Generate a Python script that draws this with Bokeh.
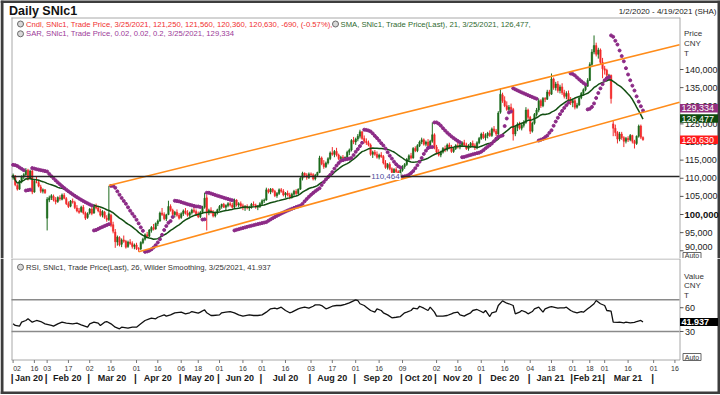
import numpy as np
import pandas as pd
from bokeh.plotting import figure
from bokeh.layouts import column
from bokeh.models import Range1d, ColumnDataSource, Label
from bokeh.embed import file_html
from bokeh.resources import INLINE
from bokeh.core.properties import value

FONT = "Liberation Sans"

# ---------------- trading calendar (SHFE sessions) ----------------
CAL_START, CAL_END = "2020-01-02", "2021-04-19"
HOLIDAYS = [
    "2020-01-01", "2020-01-24", "2020-01-27", "2020-01-28", "2020-01-29", "2020-01-30", "2020-01-31",
    "2020-04-06", "2020-05-01", "2020-05-04", "2020-05-05", "2020-06-25", "2020-06-26",
    "2020-10-01", "2020-10-02", "2020-10-05", "2020-10-06", "2020-10-07", "2020-10-08",
    "2021-01-01", "2021-02-11", "2021-02-12", "2021-02-15", "2021-02-16", "2021-02-17", "2021-04-05",
]

# ---------------- daily candles (open, high, low, close) in thousand CNY ----------------
jan20 = [(110.2,111.3,109.6,110.8),(110.6,110.9,107.8,108.2),(108.0,108.4,106.6,107.0),(107.0,109.5,106.8,109.2),
         (109.0,110.8,108.6,110.4),(110.4,111.4,109.8,111.0),(111.0,112.8,110.6,112.2),(112.2,112.6,109.4,109.8),
         (109.8,112.4,109.6,112.0),(112.0,112.3,105.6,106.2),(106.2,109.6,106.0,109.2),(109.0,110.4,108.6,108.9),
         (108.8,109.6,107.5,107.8),(107.6,108.2,105.9,106.4),(106.4,107.2,105.8,106.8),(106.8,107.0,105.7,106.0)]
feb20 = [(99.0,104.8,95.6,104.2),(104.0,105.2,103.4,104.6),(104.6,105.6,104.0,105.2),(105.0,105.5,103.6,104.0),
         (104.0,104.8,102.8,103.5),(103.6,105.0,103.2,104.7),(104.6,105.3,103.8,104.3),(104.2,105.8,103.9,105.4),
         (105.3,105.9,104.2,104.5),(104.4,104.8,102.6,103.0),(103.0,103.6,101.8,102.2),(102.3,104.0,102.0,103.7),
         (103.6,104.4,103.0,103.4),(103.3,103.8,101.5,101.9),(101.8,102.6,100.6,101.0),(101.0,101.8,100.2,100.6),
         (100.8,102.4,100.5,102.0),(102.0,102.6,100.0,100.4),(100.4,100.8,98.5,99.0),(99.2,100.6,98.8,100.2)]
mar20 = [(100.4,101.8,100.0,101.5),(101.5,102.0,99.8,100.3),(100.4,102.8,100.2,102.5),(102.4,103.0,101.4,101.8),
         (101.8,102.4,100.6,101.0),(101.0,101.6,99.4,99.8),(99.8,101.2,99.2,100.8),(100.6,101.0,98.8,99.2),
         (99.0,99.8,98.0,98.6),(98.6,107.9,98.2,100.2),(99.8,100.2,96.5,97.0),(97.2,98.0,94.8,95.4),
         (95.2,96.0,90.8,92.5),(92.4,94.2,91.4,93.8),(93.6,94.0,91.2,91.6),(91.8,93.4,91.0,93.0),
         (93.0,94.2,92.2,92.6),(92.6,93.0,90.6,91.0),(91.2,92.8,90.8,92.4),(92.4,93.2,91.6,92.0),
         (92.0,92.6,90.6,91.2),(91.2,92.0,90.4,91.6)]
apr20 = [(91.6,92.2,90.2,90.6),(90.6,91.0,89.7,90.4),(90.5,92.6,90.2,92.3),(92.2,93.6,91.8,93.2),
         (93.2,94.8,92.8,94.4),(94.4,95.2,93.6,93.9),(94.0,96.0,93.8,95.7),(95.6,96.8,95.0,96.4),
         (96.4,97.4,95.6,95.9),(96.0,97.8,95.8,97.5),(97.5,98.6,96.8,98.2),(98.2,100.8,98.0,100.4),
         (100.4,101.8,99.6,100.0),(100.0,100.6,98.4,98.8),(98.8,100.2,98.2,99.9),(100.0,103.8,99.8,102.2),
         (102.2,102.8,100.8,101.2),(101.2,101.6,99.6,100.0),(100.0,101.0,99.2,100.6),(100.6,101.4,99.4,99.8),
         (99.8,100.4,98.6,99.0)]
may20 = [(99.2,100.6,98.8,100.2),(100.2,101.4,99.6,101.0),(101.0,101.8,100.0,100.4),(100.4,101.2,99.4,99.8),
         (99.8,100.8,99.2,100.5),(100.5,101.6,100.0,101.2),(101.2,102.2,100.4,100.8),(100.8,101.4,99.6,100.0),
         (100.0,100.8,99.0,99.4),(99.4,101.0,99.0,100.6),(100.6,102.4,100.2,102.0),(102.0,106.0,101.6,104.5),
         (104.6,105.4,95.6,100.4),(100.4,101.6,99.8,101.2),(101.2,102.0,100.2,100.6),(100.6,101.2,99.2,99.6),
         (99.6,100.8,99.2,100.4),(100.4,101.6,100.0,101.3)]
jun20 = [(101.3,102.6,101.0,102.2),(102.2,103.0,101.6,102.8),(102.8,103.2,101.8,102.0),(102.0,102.8,101.2,102.5),
         (102.5,103.4,102.0,103.0),(103.0,103.5,102.2,102.6),(102.6,103.2,101.6,102.0),(102.0,104.4,101.8,104.0),
         (104.0,104.2,102.2,102.6),(102.6,103.4,102.0,103.0),(103.0,103.6,102.0,102.4),(102.4,103.0,101.2,101.8),
         (101.8,102.6,101.0,102.2),(102.2,102.8,101.4,101.8),(101.8,102.4,101.0,102.0),(102.0,103.2,101.6,102.8),
         (102.8,103.6,102.2,102.6),(102.6,103.0,101.6,102.0),(102.0,102.6,101.2,102.2),(102.2,103.4,101.8,103.0)]
jul20 = [(103.0,104.2,102.6,103.8),(103.8,104.4,103.2,104.0),(104.0,107.4,103.8,106.8),(106.8,107.2,105.8,106.2),
         (106.2,107.3,105.6,107.0),(107.0,107.3,106.0,106.4),(106.4,106.8,104.8,105.2),(105.2,106.2,104.6,105.8),
         (105.8,107.2,105.4,106.8),(106.8,107.3,106.0,106.4),(106.4,107.0,105.0,105.4),(105.4,106.2,104.6,105.9),
         (105.9,106.6,105.0,105.4),(105.4,106.0,104.2,104.8),(104.8,106.0,104.4,105.6),(105.6,106.8,105.2,106.4),
         (106.4,107.0,105.4,105.8),(105.8,107.2,105.6,107.0),(107.0,110.4,106.8,110.0),(110.0,111.8,109.4,111.4),
         (111.4,111.6,110.2,110.8),(110.8,111.4,109.6,110.2),(110.2,111.6,109.8,111.2)]
aug20 = [(111.2,111.6,110.4,111.0),(111.0,111.4,109.4,109.8),(109.8,111.2,109.4,110.8),(110.8,111.8,110.4,111.6),
         (111.6,116.2,111.4,115.6),(115.6,116.0,113.6,114.0),(114.0,115.0,112.6,113.2),(113.2,114.6,112.8,114.2),
         (114.2,115.8,113.8,115.4),(115.4,117.4,115.0,117.0),(117.0,118.6,116.2,116.6),(116.6,117.8,115.8,117.4),
         (117.4,118.4,116.0,116.4),(116.4,116.8,115.0,115.4),(115.4,116.2,115.2,115.8),(115.8,116.4,115.3,115.6),
         (115.6,116.0,115.4,115.8),(115.8,117.6,115.6,117.2),(117.2,118.2,116.4,117.8),(117.8,120.8,117.4,120.4),
         (120.4,121.4,119.4,120.0)]
sep20 = [(120.0,121.2,119.2,120.8),(120.8,122.2,120.2,121.6),(121.6,123.4,121.0,122.8),(122.8,123.0,120.6,121.0),
         (121.0,121.8,119.6,120.2),(120.2,121.0,119.2,119.8),(119.8,120.4,118.8,119.2),(119.2,119.6,116.2,116.6),
         (116.6,117.6,115.6,117.2),(117.2,117.8,116.2,116.6),(116.6,117.4,115.4,115.8),(115.8,116.8,115.2,116.4),
         (116.4,117.2,115.6,116.0),(116.0,116.4,113.8,114.2),(114.2,115.0,112.6,113.0),(113.0,114.2,112.4,113.8),
         (113.8,114.4,112.2,112.6),(112.6,113.0,111.2,111.6),(111.6,112.8,111.0,112.4),(112.4,113.0,111.4,111.8),
         (111.8,112.2,110.464,110.9),(110.9,112.6,110.6,112.2)]
oct20 = [(112.2,113.6,111.8,113.2),(113.2,114.2,112.6,113.8),(113.8,115.6,113.4,115.2),(115.2,116.6,114.8,116.2),
         (116.2,117.0,115.2,115.6),(115.6,118.6,115.4,118.2),(118.2,118.8,117.2,117.6),(117.6,119.4,117.2,119.0),
         (119.0,120.4,118.6,120.0),(120.0,121.2,119.4,120.6),(120.6,121.0,119.0,119.4),(119.4,120.4,118.8,120.0),
         (120.0,120.8,118.6,119.0),(119.0,120.6,118.6,120.2),(120.2,125.4,119.8,122.0),(122.0,122.4,118.0,118.6)]
nov20 = [(118.6,119.2,116.6,117.2),(117.2,118.0,116.0,116.4),(116.4,117.6,115.8,117.2),(117.2,118.6,116.8,118.2),
         (118.2,119.0,117.2,117.8),(117.8,119.6,117.4,119.2),(119.2,119.8,118.0,118.4),(118.4,119.2,117.0,117.4),
         (117.4,118.6,117.0,118.2),(118.2,119.4,117.8,119.0),(119.0,119.8,118.2,118.6),(118.6,119.6,118.0,119.2),
         (119.2,120.2,118.6,119.8),(119.8,120.6,118.8,119.2),(119.2,119.8,117.8,118.2),(118.2,119.4,117.6,119.0),
         (119.0,120.0,118.4,119.6),(119.6,120.4,118.6,119.0),(119.0,119.6,117.8,118.4),(118.4,120.2,118.0,119.8),
         (119.8,121.4,119.4,121.0)]
dec20 = [(121.0,122.6,120.6,122.2),(122.2,122.8,120.8,121.2),(121.2,122.4,120.4,121.8),(121.8,122.8,121.0,122.4),
         (122.4,123.2,121.4,121.8),(121.8,124.0,121.4,123.6),(123.6,124.4,122.6,123.0),(123.0,123.6,121.6,122.2),
         (122.2,128.5,121.8,128.0),(128.2,134.8,127.8,133.2),(133.0,133.6,130.8,131.4),(131.4,132.6,129.6,130.0),
         (130.0,131.2,128.6,129.0),(129.0,130.2,128.4,129.6),(129.6,130.6,128.6,129.0),(129.0,129.4,120.4,122.2),
         (122.2,124.4,121.6,124.0),(124.0,125.4,123.0,124.8),(124.8,125.6,123.4,123.8),(123.8,125.0,123.2,124.6),
         (124.6,126.0,124.0,125.4),(125.4,129.6,125.0,128.8),(128.8,129.2,126.2,126.8)]
jan21 = [(126.8,127.2,122.2,123.0),(123.0,125.6,122.6,125.2),(125.2,128.0,124.8,127.6),(127.6,129.4,127.0,128.8),
         (128.8,132.0,128.2,131.4),(131.4,131.8,129.4,130.0),(130.0,132.4,129.6,132.0),(132.0,132.4,131.0,131.8),
         (131.8,134.4,131.6,133.8),(133.8,134.4,132.6,133.2),(133.2,138.9,133.0,137.4),(137.4,137.8,134.4,135.0),
         (135.0,136.6,134.2,136.0),(136.0,136.8,133.6,134.2),(134.2,135.8,133.4,135.2),(135.2,136.2,133.0,133.6),
         (133.6,134.4,132.0,132.6),(132.6,134.0,131.8,133.4),(133.4,134.2,131.0,131.6),(131.6,132.4,130.2,130.8)]
feb21 = [(130.8,132.0,129.6,131.4),(131.4,132.2,129.0,129.6),(129.6,130.8,129.2,130.2),(130.2,132.6,130.0,132.2),
         (132.2,133.8,131.8,133.4),(133.4,134.8,132.8,134.4),(134.4,135.6,134.0,135.4),(135.4,137.6,135.2,137.0),
         (137.0,142.0,136.8,141.4),(141.4,145.6,141.0,144.8),(144.8,149.4,144.2,146.6),(146.6,147.4,143.6,144.2),
         (144.2,146.0,143.0,145.4),(145.4,145.8,141.4,142.0),(142.0,143.2,137.6,140.2)]
mar21 = [(140.2,141.0,138.6,139.8),(139.8,140.2,137.9,138.4),(138.4,138.8,138.0,138.4),(138.4,138.6,130.6,132.0),
         (125.0,126.0,121.6,123.8),(123.8,124.8,121.6,122.6),(122.6,123.0,119.6,120.8),(120.8,122.8,120.2,122.2),
         (122.2,122.8,120.6,121.2),(121.2,121.6,118.6,120.2),(120.2,121.4,119.6,121.0),(121.0,121.6,120.0,120.6),
         (120.6,122.2,120.2,121.8),(121.8,122.0,119.6,120.2),(120.2,120.6,118.2,119.6),(119.6,121.8,119.2,121.6),
         (121.6,124.8,121.2,124.4),(124.4,124.8,120.8,121.32),(121.25,121.56,120.36,120.63)]

# RSI(26, Wilder): session number -> value
rsi_session = [0, 1, 3, 4, 6, 7, 9, 11, 13, 15, 18, 19, 21, 23, 25, 28, 30, 32, 35, 36,
               38, 40, 41, 43, 44, 46, 48, 50, 51, 54, 56, 58, 60, 62, 64, 65, 67, 68, 71, 72,
               74, 76, 79, 81, 83, 84, 87, 88, 90, 91, 93, 94, 97, 98, 100, 102, 104, 106, 108, 111,
               113, 115, 117, 119, 121, 123, 124, 126, 128, 130, 131, 134, 135, 137, 139, 141, 142, 144, 145, 147,
               148, 150, 152, 154, 156, 158, 161, 162, 163, 165, 166, 168, 170, 171, 173, 174, 176, 178, 180, 182,
               184, 185, 187, 188, 190, 191, 193, 195, 196, 198, 199, 202, 204, 206, 207, 209, 210, 212, 213, 215,
               216, 218, 220, 221, 222, 224, 225, 227, 228, 230, 232, 233, 235, 236, 238, 239, 241, 242, 244, 245,
               247, 249, 250, 252, 253, 256, 257, 259, 260, 262, 263, 265, 267, 268, 270, 271, 273, 274, 276, 278,
               279, 281, 282, 284, 285, 287, 288, 290, 292, 293, 295, 296]
rsi_value = [39.7, 37.6, 36.7, 41.8, 43.9, 46.0, 41.8, 43.9, 42.6, 39.7, 37.6, 36.7, 39.7, 41.8, 40.5, 39.7, 40.5, 38.4, 35.5, 39.7,
             41.8, 40.5, 37.6, 41.8, 42.6, 39.7, 35.5, 33.4, 35.5, 34.2, 35.5, 35.5, 39.7, 43.9, 46.0, 46.8, 46.0, 48.0, 51.0, 49.4,
             51.0, 53.6, 54.4, 52.3, 53.6, 55.2, 53.1, 54.4, 57.4, 53.6, 50.2, 50.2, 51.0, 53.6, 54.4, 55.2, 53.6, 51.0, 49.4, 51.0,
             50.2, 50.2, 51.0, 54.4, 58.6, 59.4, 58.6, 60.7, 56.5, 53.6, 54.4, 58.6, 59.4, 60.7, 59.4, 61.9, 63.6, 63.6, 62.8, 58.6,
             59.4, 61.9, 62.8, 62.8, 64.1, 66.2, 70.0, 69.1, 65.0, 62.8, 60.7, 56.5, 54.4, 58.6, 56.5, 53.6, 51.0, 47.3, 48.0, 48.9,
             53.6, 54.4, 56.5, 59.4, 58.6, 61.9, 59.4, 56.5, 60.7, 54.4, 49.4, 49.4, 50.2, 52.3, 53.6, 54.4, 51.0, 49.4, 51.0, 53.6,
             56.5, 57.8, 55.2, 53.6, 56.5, 48.9, 53.6, 55.2, 62.8, 68.7, 65.7, 65.0, 62.8, 52.3, 54.4, 56.5, 54.4, 52.3, 55.2, 58.6,
             60.7, 54.4, 58.6, 60.7, 61.5, 59.4, 59.9, 59.9, 60.7, 56.5, 55.2, 53.6, 55.2, 54.4, 58.6, 60.7, 65.0, 69.1, 65.0, 62.8,
             56.5, 55.6, 41.8, 41.4, 41.8, 41.0, 41.8, 41.0, 41.4, 42.6, 43.9, 41.937]

SMA_LEN = 21
SAR_START = 113700          # SAR value at the first session
SAR_AF = (0.02, 0.02, 0.2)
LEVEL = 110464              # horizontal support line
upper_channel = ([45, 273], [108000, 141000])
lower_channel = ([59, 273], [89700, 124430])
price_ticks = [90000, 95000, 100000, 105000, 110000, 115000, 120000, 125000, 130000, 135000, 140000]
rsi_ticks = [60, 30]
rsi_bands = [70, 30]
last_sar, last_sma, last_close, last_rsi = 129334, 126477, 120630, 41.937
day_ticks = ["2020-01-02", "2020-01-16", "2020-02-03", "2020-02-17", "2020-03-02", "2020-03-16", "2020-04-01",
             "2020-04-16", "2020-05-06", "2020-05-18", "2020-06-01", "2020-06-16", "2020-07-01", "2020-07-16",
             "2020-08-03", "2020-08-17", "2020-09-01", "2020-09-16", "2020-10-09", "2020-11-02", "2020-11-16",
             "2020-12-01", "2020-12-16", "2021-01-04", "2021-01-18", "2021-02-01", "2021-02-18", "2021-03-01",
             "2021-03-16", "2021-04-01", "2021-04-16"]
month_labels = ["Jan 20", "Feb 20", "Mar 20", "Apr 20", "May 20", "Jun 20", "Jul 20", "Aug 20", "Sep 20",
                "Oct 20", "Nov 20", "Dec 20", "Jan 21", "Feb 21", "Mar 21"]

title_text = "Daily SNlc1"
range_text = "1/2/2020 - 4/19/2021 (SHA)"
legend_cndl = "Cndl, SNlc1, Trade Price, 3/25/2021, 121,250, 121,560, 120,360, 120,630, -690, (-0.57%),"
legend_sma = "SMA, SNlc1, Trade Price(Last),  21, 3/25/2021, 126,477,"
legend_sar = "SAR, SNlc1, Trade Price,  0.02, 0.02, 0.2, 3/25/2021, 129,334"
legend_rsi = "RSI, SNlc1, Trade Price(Last),  26, Wilder Smoothing, 3/25/2021, 41.937"

# ---------------- derived series ----------------
sessions = [d for d in pd.bdate_range(CAL_START, CAL_END) if d.strftime("%Y-%m-%d") not in HOLIDAYS]
sess_index = {d.strftime("%Y-%m-%d"): i for i, d in enumerate(sessions)}

months = [jan20, feb20, mar20, apr20, may20, jun20, jul20, aug20, sep20, oct20, nov20, dec20, jan21, feb21, mar21]
ohlc = np.array([row for m in months for row in m]) * 1000.0
op, hi, lo, cl = ohlc.T
xs = np.arange(len(cl))
sma = pd.Series(cl).rolling(SMA_LEN, min_periods=1).mean().values


def parabolic_sar(h, l, start, af0, step, afmax):
    out = np.empty(len(h))
    up, sar, ep, af = False, start, l[0], af0
    out[0] = sar
    for i in range(1, len(h)):
        sar = sar + af * (ep - sar)
        if up:
            sar = min(sar, l[i - 1], l[max(i - 2, 0)])
            if l[i] < sar:
                up, sar, ep, af = False, ep, l[i], af0
            elif h[i] > ep:
                ep, af = h[i], min(af + step, afmax)
        else:
            sar = max(sar, h[i - 1], h[max(i - 2, 0)])
            if h[i] > sar:
                up, sar, ep, af = True, ep, h[i], af0
            elif l[i] < ep:
                ep, af = l[i], min(af + step, afmax)
        out[i] = sar
    return out


sar = parabolic_sar(hi, lo, SAR_START, *SAR_AF)

# ---------------- geometry: page pixel <-> data ----------------
W, MAIN_H, RSI_H = 720, 258, 136


def px2x(px):          # horizontal pixel -> session number
    return (px - 12.6) / 2.128


def py2p(py):          # vertical pixel -> price (upper panel)
    return 140000 - (py - 69) / 0.003625


def py2r(py):          # vertical pixel -> RSI (lower panel)
    return 30 + (331 - py) / 0.7925


X_START, X_END = px2x(11), px2x(679)
DXP = 1 / 2.128          # session units per pixel
DPP = 1 / 0.003625       # price units per pixel
DRP = 1 / 0.7925         # rsi units per pixel

xr = Range1d(px2x(0), px2x(W))

UP, DOWN = "#1d6b1d", "#f22a2a"
SAR_C, SMA_C, ORANGE = "#8c2a86", "#124f12", "#ff8c1a"
FRAME_C, BORDER_C = "#a8a8a8", "#3d3d3d"


def make_fig(h, yr):
    f = figure(width=W, height=h, x_range=xr, y_range=yr, x_axis_location=None, y_axis_location=None,
               toolbar_location=None, output_backend="svg", min_border=0, min_border_left=0,
               min_border_right=0, min_border_top=0, min_border_bottom=0)
    f.xgrid.visible = False
    f.ygrid.visible = False
    f.outline_line_color = None
    f.background_fill_color = "white"
    f.border_fill_color = "white"
    return f


def text(f, x, y, t, size="8px", color="#222222", align="left", style="normal", **kw):
    f.text(x=list(x), y=list(y), text=list(t), text_font=value(FONT), text_font_size=size,
           text_color=color, text_align=align, text_baseline="middle", text_font_style=style, **kw)


def seg(f, x0, y0, x1, y1, color, width):
    f.segment(x0=list(x0), y0=list(y0), x1=list(x1), y1=list(y1), line_color=color, line_width=width)


# ================= upper panel =================
p = make_fig(MAIN_H, Range1d(py2p(MAIN_H), py2p(0)))

# outer border and frame
seg(p, [px2x(1.5), px2x(718.5), px2x(0)], [py2p(0), py2p(0), py2p(1)],
    [px2x(1.5), px2x(718.5), px2x(720)], [py2p(258), py2p(258), py2p(1)], BORDER_C, 3)
seg(p, [px2x(11.5), px2x(11), px2x(679.5)], [py2p(17), py2p(17.5), py2p(17)],
    [px2x(11.5), px2x(679.5), px2x(679.5)], [py2p(258), py2p(17.5), py2p(258)], FRAME_C, 1)

# candles
inc = cl >= op
for mask, col in ((inc, UP), (~inc, DOWN)):
    src = ColumnDataSource(dict(x=xs[mask], h=hi[mask], l=lo[mask],
                                top=np.maximum(op, cl)[mask], bot=np.minimum(op, cl)[mask]))
    p.segment(x0="x", y0="h", x1="x", y1="l", source=src, line_color=col, line_width=1)
    p.vbar(x="x", width=0.7, top="top", bottom="bot", source=src, fill_color=col, line_color=col,
           line_width=0.5)

p.line(xs, sma, line_color=SMA_C, line_width=1.5)
p.scatter(xs, sar, marker="circle", size=3, fill_color=SAR_C, line_color=SAR_C)

for sx, sy in (upper_channel, lower_channel):
    slope = (sy[1] - sy[0]) / (sx[1] - sx[0])
    p.line([sx[0], X_END], [sy[0], sy[0] + slope * (X_END - sx[0])], line_color=ORANGE, line_width=1.6)

p.line([X_START, X_END], [LEVEL, LEVEL], line_color="#262626", line_width=1.6)
p.add_layout(Label(x=px2x(385), y=LEVEL, text=f"{LEVEL:,}", text_align="center", text_baseline="middle",
                   text_font=FONT, text_font_size="8px", text_color="#4b4b9b",
                   background_fill_color="white", padding=1))

# title, date range
text(p, [px2x(8.5)], [py2p(10.5)], [title_text], size="12.5px", color="#111111", style="bold")
text(p, [px2x(716)], [py2p(10.5)], [range_text], size="8px", color="#222222", align="right")

# legend
p.scatter([px2x(20), px2x(335), px2x(20)], [py2p(23.5), py2p(23.5), py2p(33.3)], marker="circle", size=6,
          fill_color="#d8d8d8", line_color="#6a6a6a", line_width=1)
text(p, [px2x(25.5)], [py2p(23.5)], [legend_cndl], size="7.7px", color="#f03030")
text(p, [px2x(340)], [py2p(23.5)], [legend_sma], size="7.7px", color="#2f6a2f")
text(p, [px2x(25.5)], [py2p(33.3)], [legend_sar], size="7.7px", color="#9c3a98")

# price scale (right)
AX = px2x(679.5)
seg(p, [AX] * len(price_ticks), price_ticks, [AX + 3.5 * DXP] * len(price_ticks), price_ticks, "#555555", 1)
norm = [t for t in price_ticks if t != 100000]
norm_y = [t + (3.5 * DPP if t == min(price_ticks) else 0) for t in norm]   # lowest label nudged up
text(p, [AX + 5 * DXP] * len(norm), norm_y, [f"{t:,}" for t in norm], size="9px", color="#222222")
text(p, [AX + 4.5 * DXP], [100000], ["100,000"], size="9.5px", color="#111111", style="bold")
text(p, [AX + 4 * DXP] * 3, [py2p(33), py2p(43), py2p(52.5)], ["Price", "CNY", "T"], size="8px",
     color="#333333")

for val, bg in ((last_sar, "#93307f"), (last_sma, "#0d4a0d"), (last_close, "#ff1a1a")):
    p.rect(x=[AX + 19 * DXP], y=[val], width=38 * DXP, height=8.5 * DPP, fill_color=bg, line_color=None)
    text(p, [AX + 1.5 * DXP], [val], [f"{val:,}"], size="9px", color="white")

p.rect(x=[AX + 12 * DXP], y=[py2p(255)], width=18 * DXP, height=6 * DPP, fill_color="white",
       line_color="#666666", line_width=1)
text(p, [AX + 12 * DXP], [py2p(255)], ["Auto"], size="7px", color="#333333", align="center")

# ================= RSI panel =================
TOP = MAIN_H
r = make_fig(RSI_H, Range1d(py2r(TOP + RSI_H), py2r(TOP)))

seg(r, [px2x(1.5), px2x(718.5), px2x(0)], [py2r(TOP), py2r(TOP), py2r(392.5)],
    [px2x(1.5), px2x(718.5), px2x(720)], [py2r(394), py2r(394), py2r(392.5)], BORDER_C, 3)
seg(r, [px2x(11), px2x(11.5), px2x(11), px2x(679.5)], [py2r(258.5), py2r(258), py2r(359.5), py2r(258)],
    [px2x(679.5), px2x(11.5), px2x(679.5), px2x(679.5)], [py2r(258.5), py2r(359.5), py2r(359.5), py2r(359.5)],
    FRAME_C, 1)

for b in rsi_bands:
    r.line([X_START, X_END], [b, b], line_color="#8a8a8a", line_width=1.5)
r.line(rsi_session, rsi_value, line_color="#111111", line_width=1.3)

r.scatter([px2x(20)], [py2r(266.7)], marker="circle", size=6, fill_color="#d8d8d8", line_color="#6a6a6a")
text(r, [px2x(25.5)], [py2r(266.7)], [legend_rsi], size="7.7px", color="#333333")

seg(r, [AX] * 2, rsi_ticks, [AX + 3.5 * DXP] * 2, rsi_ticks, "#555555", 1)
text(r, [AX + 5 * DXP] * 2, rsi_ticks, [str(t) for t in rsi_ticks], size="9px", color="#222222")
text(r, [AX + 4 * DXP] * 3, [py2r(275.5), py2r(285), py2r(294.5)], ["Value", "CNY", "T"], size="8px",
     color="#333333")
r.rect(x=[AX + 19 * DXP], y=[last_rsi], width=38 * DXP, height=8 * DRP, fill_color="#000000", line_color=None)
text(r, [AX + 1.5 * DXP], [last_rsi], [f"{last_rsi:.3f}"], size="9px", color="white", style="bold")
r.rect(x=[AX + 12 * DXP], y=[py2r(356.5)], width=18 * DXP, height=7 * DRP, fill_color="white",
       line_color="#666666", line_width=1)
text(r, [AX + 12 * DXP], [py2r(356.5)], ["Auto"], size="7px", color="#333333", align="center")

# time scale: day ticks
day_pos = [sess_index[d] for d in day_ticks]
seg(r, day_pos, [py2r(359.5)] * len(day_pos), day_pos, [py2r(362.5)] * len(day_pos), "#777777", 1)
shift = [4 if i == 0 else 0 for i in range(len(day_pos))]
r.text(x=day_pos, y=[py2r(367.5)] * len(day_pos), text=[d[-2:] for d in day_ticks], x_offset=shift,
       text_font=value(FONT), text_font_size="7px", text_color="#333333", text_align="center",
       text_baseline="middle")

# time scale: months with separators
month_keys = []
for d in sessions:
    k = d.strftime("%Y-%m")
    if not month_keys or month_keys[-1] != k:
        month_keys.append(k)
firsts = {k: min(i for i, d in enumerate(sessions) if d.strftime("%Y-%m") == k) for k in month_keys}
lasts = {k: max(i for i, d in enumerate(sessions) if d.strftime("%Y-%m") == k) for k in month_keys}
centers = [(firsts[k] + lasts[k]) / 2.0 for k in month_keys[:len(month_labels)]]
text(r, centers, [py2r(377.5)] * len(centers), month_labels, size="9px", color="#1a1a1a", align="center",
     style="bold")
seps = [firsts[k] - 0.5 for k in month_keys]
text(r, seps, [py2r(377.5)] * len(seps), ["|"] * len(seps), size="10px", color="#1a1a1a", align="center",
     style="bold")

layout = column(p, r, spacing=0)
open("out.html", "w").write(file_html(layout, INLINE))
